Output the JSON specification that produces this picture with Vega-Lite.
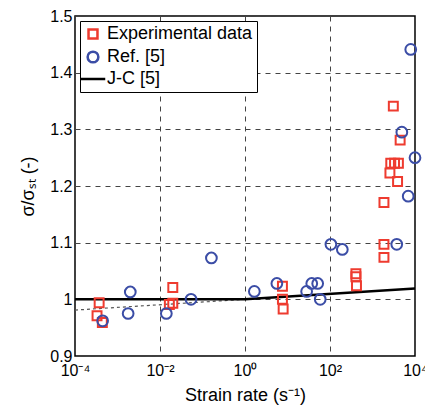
{
  "$schema": "https://vega.github.io/schema/vega-lite/v6.json",
  "autosize": {"type": "none"},
  "padding": {"left": 75, "top": 16, "right": 10, "bottom": 60},
  "width": 340,
  "height": 340,
  "config": {
    "font": "Liberation Sans",
    "view": {"stroke": "black", "strokeWidth": 1.5},
    "axis": {
      "grid": true,
      "gridColor": "#444",
      "gridDash": [5, 5],
      "gridWidth": 1,
      "gridOpacity": 1,
      "domain": false,
      "ticks": false,
      "labelFontSize": 16,
      "labelColor": "black",
      "titleFontSize": 18,
      "titleFontWeight": "normal",
      "titleColor": "black"
    }
  },
  "datasets": {
    "pts": [
      {"series": "Experimental data", "rate": 0.00037, "ratio": 0.994},
      {"series": "Experimental data", "rate": 0.00033, "ratio": 0.971},
      {"series": "Experimental data", "rate": 0.00044, "ratio": 0.959},
      {"series": "Experimental data", "rate": 0.020, "ratio": 1.021},
      {"series": "Experimental data", "rate": 0.0166, "ratio": 0.991},
      {"series": "Experimental data", "rate": 0.020, "ratio": 0.993},
      {"series": "Experimental data", "rate": 7.6, "ratio": 1.023},
      {"series": "Experimental data", "rate": 7.6, "ratio": 1.0},
      {"series": "Experimental data", "rate": 7.9, "ratio": 0.983},
      {"series": "Experimental data", "rate": 407, "ratio": 1.045},
      {"series": "Experimental data", "rate": 407, "ratio": 1.04},
      {"series": "Experimental data", "rate": 420, "ratio": 1.024},
      {"series": "Experimental data", "rate": 1860, "ratio": 1.171},
      {"series": "Experimental data", "rate": 1860, "ratio": 1.097},
      {"series": "Experimental data", "rate": 1860, "ratio": 1.074},
      {"series": "Experimental data", "rate": 3090, "ratio": 1.341},
      {"series": "Experimental data", "rate": 4470, "ratio": 1.281},
      {"series": "Experimental data", "rate": 2690, "ratio": 1.24},
      {"series": "Experimental data", "rate": 3300, "ratio": 1.24},
      {"series": "Experimental data", "rate": 4070, "ratio": 1.24},
      {"series": "Experimental data", "rate": 2570, "ratio": 1.223},
      {"series": "Experimental data", "rate": 3890, "ratio": 1.208},
      {"series": "Ref. [5]", "rate": 0.000447, "ratio": 0.962},
      {"series": "Ref. [5]", "rate": 0.00178, "ratio": 0.975},
      {"series": "Ref. [5]", "rate": 0.0020, "ratio": 1.013},
      {"series": "Ref. [5]", "rate": 0.0141, "ratio": 0.975},
      {"series": "Ref. [5]", "rate": 0.0537, "ratio": 1.0},
      {"series": "Ref. [5]", "rate": 0.162, "ratio": 1.073},
      {"series": "Ref. [5]", "rate": 1.66, "ratio": 1.014},
      {"series": "Ref. [5]", "rate": 5.62, "ratio": 1.028},
      {"series": "Ref. [5]", "rate": 28.2, "ratio": 1.014},
      {"series": "Ref. [5]", "rate": 37.2, "ratio": 1.028},
      {"series": "Ref. [5]", "rate": 51.3, "ratio": 1.028},
      {"series": "Ref. [5]", "rate": 58.9, "ratio": 1.0},
      {"series": "Ref. [5]", "rate": 105, "ratio": 1.097},
      {"series": "Ref. [5]", "rate": 195, "ratio": 1.088},
      {"series": "Ref. [5]", "rate": 3720, "ratio": 1.097},
      {"series": "Ref. [5]", "rate": 6920, "ratio": 1.182},
      {"series": "Ref. [5]", "rate": 4900, "ratio": 1.295},
      {"series": "Ref. [5]", "rate": 10000, "ratio": 1.25},
      {"series": "Ref. [5]", "rate": 7940, "ratio": 1.441}
    ],
    "jc": [
      {"series": "J-C [5]", "rate": 0.0001, "ratio": 1.0},
      {"series": "J-C [5]", "rate": 1, "ratio": 1.0},
      {"series": "J-C [5]", "rate": 10000, "ratio": 1.019}
    ],
    "fit": [
      {"rate": 0.0001, "ratio": 0.981},
      {"rate": 1, "ratio": 1.0}
    ]
  },
  "encoding": {
    "x": {
      "field": "rate", "type": "quantitative",
      "scale": {"type": "log", "domain": [0.0001, 10000], "nice": false},
      "axis": {
        "values": [0.0001, 0.01, 1, 100, 10000],
        "labelExpr": "['10⁻⁴','','10⁻²','','10⁰','','10²','','10⁴'][round(log(datum.value)/LN10)+4]",
        "labelPadding": 6,
        "labelFlush": false,
        "title": "Strain rate (s⁻¹)",
        "titlePadding": 8
      }
    },
    "y": {
      "field": "ratio", "type": "quantitative",
      "scale": {"domain": [0.9, 1.5], "nice": false, "zero": false},
      "axis": {
        "values": [0.9, 1.0, 1.1, 1.2, 1.3, 1.4, 1.5],
        "format": "~g",
        "labelPadding": 3,
        "labelFlush": false,
        "title": "σ/σₛₜ (-)",
        "titlePadding": 12
      }
    }
  },
  "layer": [
    {
      "data": {"name": "fit"},
      "mark": {"type": "line", "color": "#555", "strokeDash": [3, 3], "strokeWidth": 1.2, "clip": true}
    },
    {
      "data": {"name": "jc"},
      "mark": {"type": "line", "strokeWidth": 2.5, "clip": true},
      "encoding": {
        "color": {"field": "series", "type": "nominal",
          "scale": {"domain": ["Experimental data", "Ref. [5]", "J-C [5]"], "range": ["#ee3b2f", "#3b4da6", "black"]}}
      }
    },
    {
      "data": {"name": "pts"},
      "mark": {"type": "point", "filled": false, "strokeWidth": 2, "opacity": 1, "clip": false},
      "encoding": {
        "color": {"field": "series", "type": "nominal",
          "scale": {"domain": ["Experimental data", "Ref. [5]", "J-C [5]"], "range": ["#ee3b2f", "#3b4da6", "black"]},
          "legend": {
            "title": null,
            "orient": "top-left",
            "offset": 5,
            "strokeColor": "black",
            "fillColor": "white",
            "padding": 4,
            "labelFontSize": 18,
            "labelColor": "black",
            "rowPadding": 2,
            "symbolStrokeWidth": 2.5,
            "symbolOpacity": 1,
            "labelOffset": 5
          }},
        "shape": {"field": "series", "type": "nominal",
          "scale": {"domain": ["Experimental data", "Ref. [5]", "J-C [5]"], "range": ["square", "circle", "M-2,0H2"]}},
        "size": {"field": "series", "type": "nominal",
          "scale": {"domain": ["Experimental data", "Ref. [5]", "J-C [5]"], "range": [80, 150, 160]}}
      }
    }
  ]
}
